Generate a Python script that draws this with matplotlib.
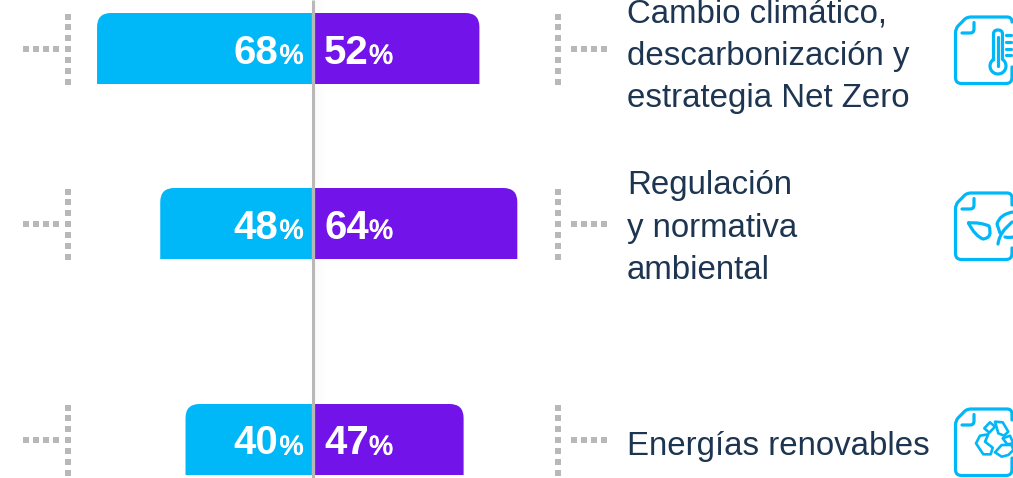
import math
import matplotlib
matplotlib.use("Agg")
import matplotlib.pyplot as plt
import matplotlib.patheffects as pe
from matplotlib.patches import PathPatch, Polygon
from matplotlib.path import Path

left_values = [68, 48, 40]
right_values = [52, 64, 47]
topics = [
    ["Cambio climático,", "descarbonización y", "estrategia Net Zero"],
    ["Regulación", "y normativa", "ambiental"],
    ["Energías renovables"],
]

CYAN = "#00b8f8"
PURPLE = "#7213ea"
GREY = "#b8b8b8"
INK = "#1d3550"
W, H = 1013, 478
PX_PER_PCT = 3.16
ROW_TOPS = [13, 188, 404]
TEXT_BASE = [22, 194, 455]
BAR_H = 71
LINE_GAP = 42.5

plt.rcParams["font.family"] = ["Liberation Sans", "DejaVu Sans"]

fig = plt.figure(figsize=(W / 100, H / 100), dpi=100)

# bars live on a percent scale, zero on the centre line
ax = fig.add_axes([0, 0, 1, 1])
ax.set_xlim(-313.5 / PX_PER_PCT, (W - 313.5) / PX_PER_PCT)
ax.set_ylim(H, 0)
ax.axis("off")

# everything else is placed in pixels
px = fig.add_axes([0, 0, 1, 1])
px.set_xlim(0, W)
px.set_ylim(H, 0)
px.axis("off")
px.patch.set_alpha(0)


def tab(start, end, top, bottom, radius=14):
    # bar with only the outer top corner rounded
    rx = radius / PX_PER_PCT * (1 if end > start else -1)
    verts = [(start, bottom), (start, top), (end - rx, top), (end, top),
             (end, top + radius), (end, bottom), (start, bottom)]
    codes = [Path.MOVETO, Path.LINETO, Path.LINETO, Path.CURVE3, Path.CURVE3,
             Path.LINETO, Path.CLOSEPOLY]
    return Path(verts, codes)


heavier = [pe.withStroke(linewidth=0.7, foreground="white")]

for i, top in enumerate(ROW_TOPS):
    bottom = top + BAR_H
    ax.add_patch(PathPatch(tab(-0.5, -left_values[i] - 0.5, top, bottom), fc=CYAN, ec="none"))
    ax.add_patch(PathPatch(tab(0.5, right_values[i] + 0.5, top, bottom), fc=PURPLE, ec="none"))

    base = top + 50.5
    px.text(278, base, str(left_values[i]), color="white", fontsize=29, fontweight="bold",
            ha="right", va="baseline")
    px.text(279.5, base, "%", color="white", fontsize=19.5, ha="left", va="baseline",
            path_effects=heavier)
    px.text(324, base, str(right_values[i]), color="white", fontsize=29, fontweight="bold",
            ha="left", va="baseline")
    px.text(369, base, "%", color="white", fontsize=19.5, ha="left", va="baseline",
            path_effects=heavier)

    # dotted brackets
    for col, dash_xs in ((68, (26, 36, 46, 56)), (558, (574, 584, 594, 604))):
        ys = [top + 3.5 + k * 10.9 for k in range(7)]
        px.plot([col] * 7, ys, ls="none", marker="s", ms=4.6, color=GREY, mew=0)
        px.plot(dash_xs, [ys[3]] * 4, ls="none", marker="s", ms=4.6, color=GREY, mew=0)

    # topic label
    for k, line in enumerate(topics[i]):
        px.text(627, TEXT_BASE[i] + k * LINE_GAP, line, color=INK, fontsize=23.8,
                ha="left", va="baseline")

# soft shadow next to the centre line
for k in range(12):
    ax.axvspan(0.5 + k * 1.0 / PX_PER_PCT, 0.5 + (k + 1) * 1.0 / PX_PER_PCT,
               color="black", alpha=0.018 * (1 - k / 12), lw=0, zorder=0.5)
px.plot([313, 313], [0, H], color=GREY, lw=2.2, solid_capstyle="butt")


def stroke(verts, codes=None, lw=2.3):
    px.add_patch(PathPatch(Path(verts, codes), fc="none", ec=CYAN, lw=lw, capstyle="round",
                           joinstyle="round"))


M, C, Q = Path.MOVETO, Path.LINETO, Path.CURVE3


def doc(top, gap_from, gap_to):
    L, R = 955.5, 1012
    bot = top + 66.5
    stroke([(R, top + gap_from), (R, top + 5), (R, top), (R - 5, top), (971, top), (966, top),
            (963, top + 4), (958, top + 9), (955.5, top + 12), (L, top + 16), (L, bot - 6),
            (L, bot), (L + 6, bot), (R - 6, bot), (R, bot), (R, bot - 6), (R, top + gap_to)],
           [M, C, Q, Q, C, Q, Q, C, Q, Q, C, Q, Q, C, Q, Q, C])
    stroke([(962, top + 16), (970, top + 16), (974, top + 16), (974, top + 12), (974, top + 5.5)],
           [M, C, Q, Q, C])


# thermometer
doc(17, 5, 50)
bulb = [(998 + 8 * math.sin(math.radians(a)), 66 - 8 * math.cos(math.radians(a)))
        for a in range(34, 327, 12)]
stroke([(993.5, bulb[-1][1]), (993.5, 34), (993.5, 30), (998, 30), (1002.5, 30), (1002.5, 34)] + bulb
       + [(993.5, bulb[-1][1])],
       [M, C, Q, Q, Q, Q] + [C] * (len(bulb) + 1))
stroke([(998, 37), (998, 66)])
for y in (35, 42, 49, 55):
    stroke([(1006, y), (1011, y)])

# leaves
doc(193, 12, 55)
stroke([(968.5, 223), (980, 222), (989, 226), (993, 238), (983, 239), (975, 236), (968.5, 223)],
       [M, Q, Q, Q, Q, Q, Q])
stroke([(998, 244), (999, 236), (1005, 229), (1012, 222)], [M, Q, Q, C])
stroke([(1013, 212), (1000, 214), (997, 224), (1000, 233)], [M, Q, Q, C])
stroke([(1005, 237), (1009, 238), (1013, 237)], [M, Q, Q])

# recycling arrows
doc(409, 11, 49)
arrows = [
    [(984.3, 428.3), (990, 422.3), (995, 426.7), (989.3, 432.7)],
    [(995, 421.7), (1002.7, 422.3), (1008.3, 431.7), (1004, 435.7), (998.3, 433.3)],
    [(980, 435.7), (988.3, 434.3), (985, 441.7), (992.7, 447.7), (990.7, 454.3), (983.3, 454.3), (976, 443.3)],
    [(995, 452.3), (1001.7, 445), (1011.7, 445), (1013.3, 450), (1008.3, 455), (1001.7, 456.7)],
    [(1002.7, 438.3), (1010, 435.7), (1013.3, 443.3), (1007.3, 444.3)],
]
for pts in arrows:
    px.add_patch(Polygon(pts, closed=True, fc="none", ec=CYAN, lw=1.9, joinstyle="round"))

fig.savefig("out.png", dpi=100, facecolor="white")
